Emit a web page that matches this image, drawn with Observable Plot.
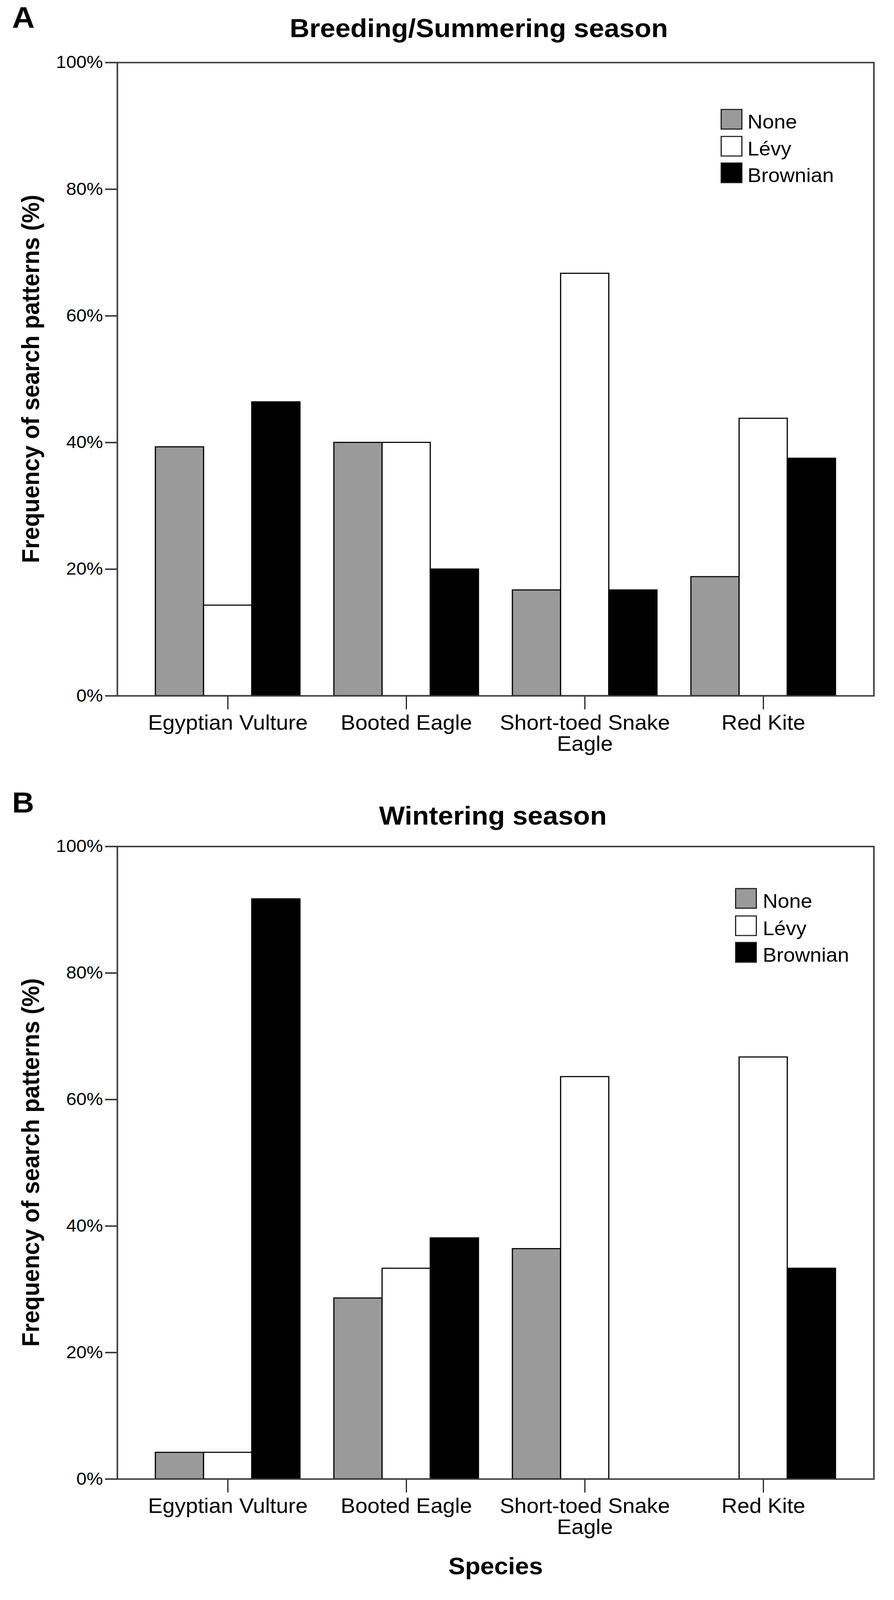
<!DOCTYPE html>
<html>
<head>
<meta charset="utf-8">
<script src="https://cdn.jsdelivr.net/npm/d3@7"></script>
<script src="https://cdn.jsdelivr.net/npm/@observablehq/plot@0.6"></script>
<style>
  html, body { margin: 0; padding: 0; background: #fff; width: 2289px; overflow: hidden; }
  #root { position: relative; width: 2289px; height: 4333px; background: #fff; font-family: "Liberation Sans", Arial, sans-serif; color: #000; overflow: hidden; transform-origin: 0 0; }
  .abs { position: absolute; white-space: nowrap; line-height: 1; z-index: 2; }
  .panel { position: absolute; left: 0; z-index: 1; line-height: 0; }
  .panel svg { display: block; }
  .bold { font-weight: bold; }
  .sw { position: absolute; box-sizing: border-box; border: 3px solid #222; z-index: 2; }
</style>
</head>
<body>
<div id="root"></div>
<script>
// ---------- data ----------
const species = ["Egyptian Vulture", "Booted Eagle", "Short-toed Snake Eagle", "Red Kite"];
const speciesTickLabels = ["Egyptian Vulture", "Booted Eagle", "Short-toed Snake\nEagle", "Red Kite"];
const patterns = ["None", "Lévy", "Brownian"];
const patternColors = ["#9a9a9a", "#ffffff", "#000000"];

// Breeding/Summering season (%)
const breedingNone     = [39.3, 40.0, 16.7, 18.8];
const breedingLevy     = [14.3, 40.0, 66.7, 43.8];
const breedingBrownian = [46.4, 20.0, 16.7, 37.5];

// Wintering season (%)
const winteringNone     = [4.2, 28.6, 36.4, 0];
const winteringLevy     = [4.2, 33.3, 63.6, 66.7];
const winteringBrownian = [91.7, 38.1, 0, 33.3];

const yTicks = [0, 20, 40, 60, 80, 100];

// ---------- page fitting ----------
// The photographed area is shorter than the 4333px layout, so the whole
// layout is compressed vertically to fit the visible height.
const PAGE_H = 4333;
const visibleH = Math.min(window.innerHeight || PAGE_H, 4096);
const root = document.getElementById("root");
const sy = Math.min(1, visibleH / PAGE_H);
root.style.transform = "scale(1," + sy + ")";
document.body.style.height = Math.ceil(PAGE_H * sy) + "px";
document.documentElement.style.height = Math.ceil(PAGE_H * sy) + "px";

// ---------- helpers ----------
const W = 2289;
const BAR_W = 0.27; // bar width in category-index units
function buildTable(seriesList) {
  const rows = [];
  species.forEach((sp, i) => {
    seriesList.forEach((vals, j) => {
      const x1 = i + (j - 1.5) * BAR_W;
      rows.push({species: sp, pattern: patterns[j], x1, x2: x1 + BAR_W, value: vals[i]});
    });
  });
  return rows;
}

function makePanel(table, height, marginTop, marginBottom) {
  return Plot.plot({
    width: W,
    height,
    marginTop,
    marginBottom,
    marginLeft: 300,
    marginRight: 52,
    style: {fontFamily: "'Liberation Sans', Arial, sans-serif", background: "transparent", color: "#000"},
    x: {domain: [-0.619, 3.619], axis: null},
    y: {domain: [0, 100], axis: null},
    color: {domain: patterns, range: patternColors},
    marks: [
      Plot.rect(table, {x1: "x1", x2: "x2", y1: 0, y2: "value", fill: "pattern", stroke: "#000", strokeWidth: 3}),
      Plot.axisY({ticks: yTicks, tickFormat: d => d + "%", tickSize: 31, tickPadding: 6, fontSize: 47, label: null, stroke: "#333", strokeWidth: 4}),
      Plot.axisX({ticks: [0, 1, 2, 3], tickFormat: i => speciesTickLabels[i], tickSize: 37, tickPadding: 14, fontSize: 56, lineHeight: 1.02, label: null, stroke: "#222", strokeWidth: 3}),
      Plot.frame({stroke: "#3c3c3c", strokeWidth: 4})
    ]
  });
}

function addText(txt, opts) {
  const d = document.createElement("div");
  d.className = "abs" + (opts.bold ? " bold" : "");
  d.textContent = txt;
  d.style.fontSize = opts.fs + "px";
  const top = opts.baseline - 0.8465 * opts.fs;
  d.style.top = top + "px";
  if (opts.center != null) {
    d.style.left = opts.center + "px";
    d.style.transform = "translateX(-50%)";
  } else {
    d.style.left = opts.left + "px";
  }
  root.appendChild(d);
  return d;
}

function addRotated(txt, cx, cy, fs) {
  const d = document.createElement("div");
  d.className = "abs bold";
  d.textContent = txt;
  d.style.fontSize = fs + "px";
  d.style.left = cx + "px";
  d.style.top = cy + "px";
  d.style.transform = "translate(-50%, -50%) rotate(-90deg)";
  root.appendChild(d);
}

function addLegend(swLeft, swTops, swSize, textLeft, fs) {
  patterns.forEach((p, j) => {
    const s = document.createElement("div");
    s.className = "sw";
    s.style.left = swLeft + "px";
    s.style.top = swTops[j] + "px";
    s.style.width = swSize + "px";
    s.style.height = swSize + "px";
    s.style.background = patternColors[j];
    root.appendChild(s);
    addText(p, {fs, left: textLeft, baseline: swTops[j] + swSize - 3});
  });
}

// ---------- panel A ----------
const svgA = makePanel(buildTable([breedingNone, breedingLevy, breedingBrownian]), 2140, 169, 256);
const wrapA = document.createElement("div");
wrapA.className = "panel";
wrapA.style.top = "0px";
wrapA.appendChild(svgA);
root.appendChild(wrapA);

addText("A", {fs: 80, bold: true, left: 31, baseline: 76});
addText("Breeding/Summering season", {fs: 70, bold: true, center: 1226, baseline: 100});
addRotated("Frequency of search patterns (%)", 78, 1026, 63);
addLegend(1845, [295, 368, 440], 56, 1914, 53);

// ---------- panel B ----------
const svgB = makePanel(buildTable([winteringNone, winteringLevy, winteringBrownian]), 2193, 152, 328);
const wrapB = document.createElement("div");
wrapB.className = "panel";
wrapB.style.top = "2140px";
wrapB.appendChild(svgB);
root.appendChild(wrapB);

addText("B", {fs: 78, bold: true, left: 31, baseline: 2200});
addText("Wintering season", {fs: 70, bold: true, center: 1262, baseline: 2233});
addRotated("Frequency of search patterns (%)", 78, 3148, 63);
addLegend(1882, [2405, 2479, 2551], 56, 1953, 53);
addText("Species", {fs: 64, bold: true, center: 1269, baseline: 4263});
</script>
</body>
</html>
